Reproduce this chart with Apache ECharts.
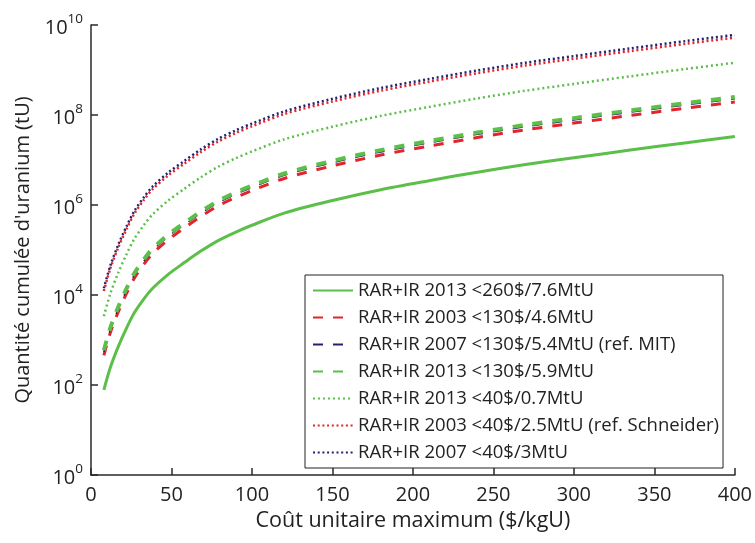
<!DOCTYPE html>
<html>
<head>
<meta charset="utf-8">
<script src="https://cdn.jsdelivr.net/npm/echarts@6/dist/echarts.min.js"></script>
<style>html,body{margin:0;padding:0;background:#fff}#c{width:755px;height:543px}</style>
</head>
<body>
<div id="c"></div>
<script>
// Cost grid ($/kgU)
const costs = [8,12,17,22,27,33,38,48,58,68,79,90,100,120,150,180,210,240,270,300,335,370,400];
// Cumulative uranium (tU)
const rar2013_260 = [77.6,245,724,1.82e3,4.07e3,8.32e3,1.38e4,2.88e4,5.25e4,9.33e4,1.62e5,2.51e5,3.55e5,6.61e5,1.26e6,2.19e6,3.47e6,5.37e6,7.94e6,1.12e7,1.66e7,2.43e7,3.31e7];
const rar2003_130 = [457,1.45e3,4.27e3,1.07e4,2.40e4,4.90e4,8.13e4,1.70e5,3.09e5,5.50e5,9.55e5,1.48e6,2.09e6,3.89e6,7.41e6,1.29e7,2.04e7,3.16e7,4.68e7,6.61e7,9.77e7,1.43e8,1.95e8];
const rar2007_130 = [537,1.70e3,5.01e3,1.26e4,2.82e4,5.75e4,9.55e4,2.00e5,3.63e5,6.46e5,1.12e6,1.74e6,2.45e6,4.57e6,8.71e6,1.51e7,2.40e7,3.72e7,5.50e7,7.76e7,1.15e8,1.68e8,2.29e8];
const rar2013_130 = [589,1.86e3,5.50e3,1.38e4,3.09e4,6.31e4,1.05e5,2.19e5,3.98e5,7.08e5,1.23e6,1.91e6,2.69e6,5.01e6,9.55e6,1.66e7,2.63e7,4.07e7,6.03e7,8.51e7,1.26e8,1.84e8,2.51e8];
const rar2013_40 = [3.39e3,1.07e4,3.16e4,7.94e4,1.78e5,3.63e5,6.03e5,1.26e6,2.29e6,4.07e6,7.08e6,1.10e7,1.55e7,2.88e7,5.50e7,9.55e7,1.51e8,2.34e8,3.47e8,4.90e8,7.24e8,1.06e9,1.45e9];
const rar2003_40 = [1.23e4,3.89e4,1.15e5,2.88e5,6.46e5,1.32e6,2.19e6,4.57e6,8.32e6,1.48e7,2.57e7,3.98e7,5.62e7,1.05e8,2.00e8,3.47e8,5.50e8,8.51e8,1.26e9,1.78e9,2.63e9,3.85e9,5.25e9];
const rar2007_40 = [1.41e4,4.47e4,1.32e5,3.31e5,7.41e5,1.51e6,2.51e6,5.25e6,9.55e6,1.70e7,2.95e7,4.57e7,6.46e7,1.20e8,2.29e8,3.98e8,6.31e8,9.77e8,1.45e9,2.04e9,3.02e9,4.42e9,6.03e9];
const xTicks = [0,50,100,150,200,250,300,350,400];

const names = [
  'RAR+IR 2013 <260$/7.6MtU',
  'RAR+IR 2003 <130$/4.6MtU',
  'RAR+IR 2007 <130$/5.4MtU (ref. MIT)',
  'RAR+IR 2013 <130$/5.9MtU',
  'RAR+IR 2013 <40$/0.7MtU',
  'RAR+IR 2003 <40$/2.5MtU (ref. Schneider)',
  'RAR+IR 2007 <40$/3MtU'
];
const GREEN = '#5bbf4a', RED = '#e3242b', NAVY = '#22226e';
const FONT = 'Open Sans';

function pairs(ys){ return costs.map((c,i)=>[c, ys[i]]); }
function mk(name, ys, color, width, dash){
  return {
    name, type:'line', data:pairs(ys), smooth:0.3, symbol:'none', showSymbol:false,
    lineStyle:{color, width, type:dash, cap:'butt'}, itemStyle:{color},
    emphasis:{disabled:true}, animation:false
  };
}

const chart = echarts.init(document.getElementById('c'), null, {renderer:'canvas'});
chart.setOption({
  backgroundColor:'#fff',
  animation:false,
  grid:{left:91, right:18, top:25, bottom:68, containLabel:false},
  legend:{
    orient:'vertical', left:305, top:275,
    borderColor:'#222', borderWidth:1, padding:[6,4,6,7],
    itemWidth:40, itemHeight:12, itemGap:8,
    itemStyle:{opacity:0, color:'rgba(0,0,0,0)', borderWidth:0},
    textStyle:{fontFamily:FONT, fontSize:18.5, color:'#222', lineHeight:18},
    data:names, selectedMode:false
  },
  xAxis:{
    type:'value', min:0, max:400, interval:50,
    name:'Coût unitaire maximum ($/kgU)', nameLocation:'middle', nameGap:33,
    nameTextStyle:{fontFamily:FONT, fontSize:21.5, color:'#222'},
    axisLine:{lineStyle:{color:'#2a2a2a', width:1.5}},
    axisTick:{inside:true, length:7, lineStyle:{color:'#2a2a2a', width:1.5}},
    axisLabel:{fontFamily:FONT, fontSize:20, color:'#222', margin:10,
      formatter:v=> xTicks.includes(v) ? String(v) : ''},
    splitLine:{show:false}
  },
  yAxis:{
    type:'log', logBase:100, min:1, max:1e10,
    name:"Quantité cumulée d'uranium (tU)", nameLocation:'middle', nameGap:58,
    nameTextStyle:{fontFamily:FONT, fontSize:20, color:'#222'},
    axisLine:{show:true, lineStyle:{color:'#2a2a2a', width:1.5}},
    axisTick:{show:true, inside:true, length:7, lineStyle:{color:'#2a2a2a', width:1.5}},
    minorTick:{show:false},
    axisLabel:{margin:8,
      formatter:v=>'{b|10}{s|'+Math.round(Math.log10(v))+'}',
      rich:{b:{fontFamily:FONT, fontSize:20, color:'#222', verticalAlign:'bottom', lineHeight:22},
            s:{fontFamily:FONT, fontSize:13.5, color:'#222', verticalAlign:'top', lineHeight:26}}},
    splitLine:{show:false}
  },
  series:[
    mk(names[0], rar2013_260, GREEN, 3, 'solid'),
    mk(names[1], rar2003_130, RED, 3, [10,10]),
    mk(names[2], rar2007_130, NAVY, 1.5, [10,10]),
    mk(names[3], rar2013_130, GREEN, 4, [10,10]),
    mk(names[4], rar2013_40, GREEN, 2.5, [2,3]),
    mk(names[5], rar2003_40, RED, 2.5, [2,2.7]),
    mk(names[6], rar2007_40, NAVY, 2.5, [2,2.7])
  ]
});
</script>
</body>
</html>
